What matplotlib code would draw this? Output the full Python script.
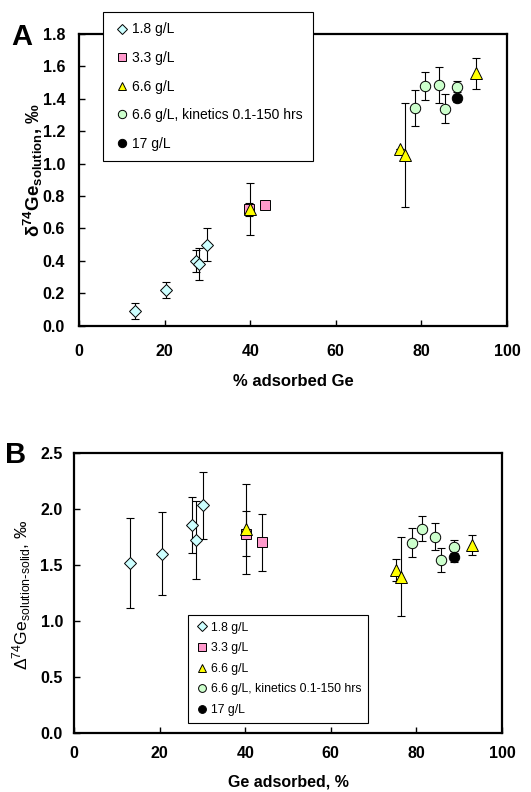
# grafico de fraccionamiento isotopico de Ge (paneles A y B)
import matplotlib
matplotlib.use('Agg')
import matplotlib.pyplot as plt

plt.rcParams['font.family'] = ['Liberation Sans', 'DejaVu Sans']
plt.rcParams['mathtext.default'] = 'regular'

etiquetas = ['1.8 g/L', '3.3 g/L', '6.6 g/L', '6.6 g/L, kinetics 0.1-150 hrs', '17 g/L']
marcadores = ['D', 's', '^', 'o', 'o']
colores = ['#CCFFFF', '#FF99CC', '#FFFF00', '#CCFFCC', '#000000']
tamanos = [6.5, 7, 8, 7.5, 7.5]

# panel A: delta74Ge de la solucion vs % adsorbido
xA = [
    [13.1, 20.3, 27.3, 28.1, 30.0],
    [39.8, 43.5],
    [40.0, 75.0, 76.2, 92.8],
    [78.4, 80.8, 84.0, 85.4, 88.4],
    [88.4],
]
yA = [
    [0.09, 0.22, 0.40, 0.38, 0.50],
    [0.72, 0.745],
    [0.72, 1.09, 1.054, 1.558],
    [1.342, 1.48, 1.486, 1.338, 1.475],
    [1.403],
]
errA = [
    [0.05, 0.05, 0.07, 0.10, 0.10],
    [0.04, 0.0],
    [0.16, 0.0, 0.32, 0.095],
    [0.11, 0.085, 0.11, 0.09, 0.035],
    [0.02],
]

# panel B: Delta74Ge solucion-solido vs Ge adsorbido
xB = [
    [13.2, 20.5, 27.5, 28.4, 30.2],
    [40.1, 43.9],
    [40.1, 75.2, 76.4, 93.1],
    [78.9, 81.4, 84.3, 85.7, 88.7],
    [88.7],
]
yB = [
    [1.515, 1.60, 1.854, 1.723, 2.032],
    [1.78, 1.70],
    [1.818, 1.455, 1.396, 1.678],
    [1.699, 1.824, 1.752, 1.545, 1.663],
    [1.574],
]
errB = [
    [0.40, 0.37, 0.25, 0.35, 0.30],
    [0.20, 0.25],
    [0.40, 0.10, 0.35, 0.09],
    [0.13, 0.11, 0.12, 0.11, 0.06],
    [0.05],
]


def dibujar(ax, xs, ys, errs, padx, pady):
    for i in range(len(etiquetas)):
        ax.errorbar(xs[i], ys[i], yerr=errs[i], fmt='none', ecolor='black',
                    elinewidth=0.8, capsize=3, capthick=0.8, zorder=2)
        ax.plot(xs[i], ys[i], linestyle='none', marker=marcadores[i],
                markersize=tamanos[i], markerfacecolor=colores[i],
                markeredgecolor='black', markeredgewidth=0.7,
                label=etiquetas[i], zorder=3)
    ax.set_xlim(0, 100)
    ax.set_xticks([0, 20, 40, 60, 80, 100])
    for s in ax.spines.values():
        s.set_linewidth(1.6)
    ax.tick_params(direction='in', length=4, width=1, labelsize=11.5)
    ax.tick_params(axis='x', pad=padx)
    ax.tick_params(axis='y', pad=pady)


fig = plt.figure(figsize=(5.31, 7.92), dpi=100)

axA = fig.add_axes([79 / 531, 1 - 325.7 / 792, 428 / 531, 291.7 / 792])
dibujar(axA, xA, yA, errA, 13, 10)
axA.set_ylim(0, 1.8)
axA.set_yticks([0.0, 0.2, 0.4, 0.6, 0.8, 1.0, 1.2, 1.4, 1.6, 1.8])
axA.set_yticklabels(['%.1f' % v for v in axA.get_yticks()])
axA.set_xlabel('% adsorbed Ge', fontsize=12, fontweight='bold')
axA.set_ylabel('$\\delta^{74}$Ge$_{solution}$, ‰', fontsize=13.5, fontweight='bold')
axA.xaxis.set_label_coords(0.5, -0.193)
axA.xaxis.label.set_verticalalignment('center')
axA.yaxis.set_label_coords(-0.1075, 0.534)
axA.yaxis.label.set_verticalalignment('center')
legA = axA.legend(loc='upper left', bbox_to_anchor=(103 / 531, 1 - 12 / 792),
                  bbox_transform=fig.transFigure, fontsize=10, numpoints=1,
                  handlelength=1.2, handletextpad=0.15, labelspacing=1.05,
                  borderpad=0.75, borderaxespad=0, fancybox=False,
                  edgecolor='black', framealpha=1, markerscale=0.8)
legA.get_frame().set_linewidth(0.8)
legA.set_zorder(10)

axB = fig.add_axes([74 / 531, 1 - 733.3 / 792, 428 / 531, 280.6 / 792])
dibujar(axB, xB, yB, errB, 9, 8)
axB.set_ylim(0, 2.5)
axB.set_yticks([0.0, 0.5, 1.0, 1.5, 2.0, 2.5])
axB.set_yticklabels(['%.1f' % v for v in axB.get_yticks()])
axB.set_xlabel('Ge adsorbed, %', fontsize=11.5, fontweight='bold')
axB.set_ylabel('$\\Delta^{74}$Ge$_{solution\\text{-}solid}$, ‰', fontsize=12.6)
axB.xaxis.set_label_coords(0.5, -0.175)
axB.xaxis.label.set_verticalalignment('center')
axB.yaxis.set_label_coords(-0.1215, 0.493)
axB.yaxis.label.set_verticalalignment('center')
legB = axB.legend(loc='upper left', bbox_to_anchor=(188 / 531, 1 - 615 / 792),
                  bbox_transform=fig.transFigure, fontsize=8.8, numpoints=1,
                  handlelength=1.2, handletextpad=0.1, labelspacing=0.7,
                  borderpad=0.55, borderaxespad=0, fancybox=False,
                  edgecolor='black', framealpha=1, markerscale=0.75)
legB.get_frame().set_linewidth(0.8)

for ax in (axA, axB):
    for t in ax.get_xticklabels() + ax.get_yticklabels():
        t.set_fontweight('bold')

fig.text(22 / 531, 1 - 37 / 792, 'A', fontsize=21, fontweight='bold', ha='center', va='center')
fig.text(16 / 531, 1 - 455 / 792, 'B', fontsize=21, fontweight='bold', ha='center', va='center')

fig.savefig('out.png', dpi=100)
